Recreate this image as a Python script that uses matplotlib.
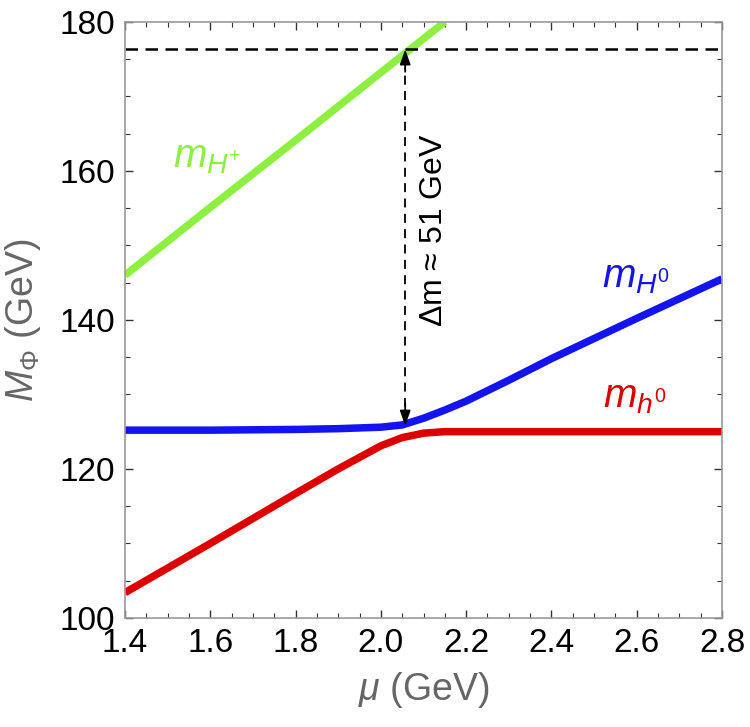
import numpy as np
import matplotlib
matplotlib.use("Agg")
import matplotlib.pyplot as plt
from matplotlib.ticker import MultipleLocator

plt.rcParams['font.family'] = ['Liberation Sans', 'DejaVu Sans']
plt.rcParams['mathtext.fontset'] = 'custom'
plt.rcParams['mathtext.rm'] = 'Liberation Sans'
plt.rcParams['mathtext.it'] = 'Liberation Sans:italic'

# charged Higgs
mu_hp = [1.40, 1.60, 1.80, 2.00, 2.15]
m_hp = [146.0, 155.1, 164.1, 173.2, 180.0]

# heavy neutral
mu_H0 = [1.40, 1.60, 1.80, 1.90, 2.00, 2.05, 2.10, 2.15, 2.20, 2.30, 2.40, 2.60, 2.80]
m_H0 = [125.2, 125.2, 125.3, 125.4, 125.6, 125.9, 126.8, 127.9, 129.1, 131.9, 134.8, 140.2, 145.5]

# light neutral
mu_h0 = [1.40, 1.60, 1.80, 1.90, 2.00, 2.05, 2.10, 2.15, 2.20, 2.40, 2.60, 2.80]
m_h0 = [103.4, 110.0, 116.7, 120.0, 123.1, 124.2, 124.8, 125.0, 125.0, 125.0, 125.0, 125.0]

top_level = 176.3
mu_arrow = 2.057
arrow_low = 125.8

fig = plt.figure(figsize=(7.5, 7.27), dpi=100)
ax = fig.add_axes([0.1667, 0.150, 0.796, 0.820])

ax.plot(mu_hp, m_hp, color='#8df040', lw=5.4, solid_capstyle='butt')
ax.plot(mu_h0, m_h0, color='#dd0000', lw=5.4, solid_capstyle='butt', solid_joinstyle='round')
ax.plot(mu_H0, m_H0, color='#1414f0', lw=5.4, solid_capstyle='butt', solid_joinstyle='round')

ax.axhline(top_level, color='black', lw=1.8, linestyle=(0, (5, 3)))

# dashed double arrow
ax.plot([mu_arrow, mu_arrow], [arrow_low + 2.5, top_level - 2.5],
        color='black', lw=1.3, linestyle=(0, (5, 3.5)))
for tip, tail in [(top_level, top_level - 3), (arrow_low, arrow_low + 3)]:
    ax.annotate('', xy=(mu_arrow, tip), xytext=(mu_arrow, tail),
                arrowprops=dict(arrowstyle='-|>,head_length=0.9,head_width=0.32',
                                color='black', lw=1.3, shrinkA=0, shrinkB=0))

ax.text(2.124, 152.0, r'$\Delta$m ≈ 51 GeV', rotation=90, fontsize=23,
        ha='center', va='center')

ax.text(1.513, 160.4, r'$m_{H^{+}}$', color='#8df040', fontsize=29, ha='left', va='baseline')
ax.text(2.519, 144.4, r'$m_{H^{0}}$', color='#1414f0', fontsize=29, ha='left', va='baseline')
ax.text(2.521, 128.3, r'$m_{h^{0}}$', color='#dd0000', fontsize=29, ha='left', va='baseline')

ax.set_xlim(1.4, 2.8)
ax.set_ylim(100, 180)
ax.xaxis.set_major_locator(MultipleLocator(0.2))
ax.xaxis.set_minor_locator(MultipleLocator(0.05))
ax.yaxis.set_major_locator(MultipleLocator(20))
ax.yaxis.set_minor_locator(MultipleLocator(5))
ax.set_xticklabels([f'{v:.1f}' for v in ax.get_xticks()])

ax.tick_params(which='both', direction='in', top=True, right=True, color='#333333')
ax.tick_params(which='major', length=6, width=1.0, labelsize=24, pad=7)
ax.tick_params(which='minor', length=3.5, width=0.8)
for s in ax.spines.values():
    s.set_color('#999999')
    s.set_linewidth(1.2)

ax.set_xlabel(r'$\mu$ (GeV)', fontsize=27, color='#666666', labelpad=8)
ax.set_ylabel(r'$M_{\Phi}$ (GeV)', fontsize=27, color='#666666', labelpad=12)

fig.savefig('out.png', dpi=100)
